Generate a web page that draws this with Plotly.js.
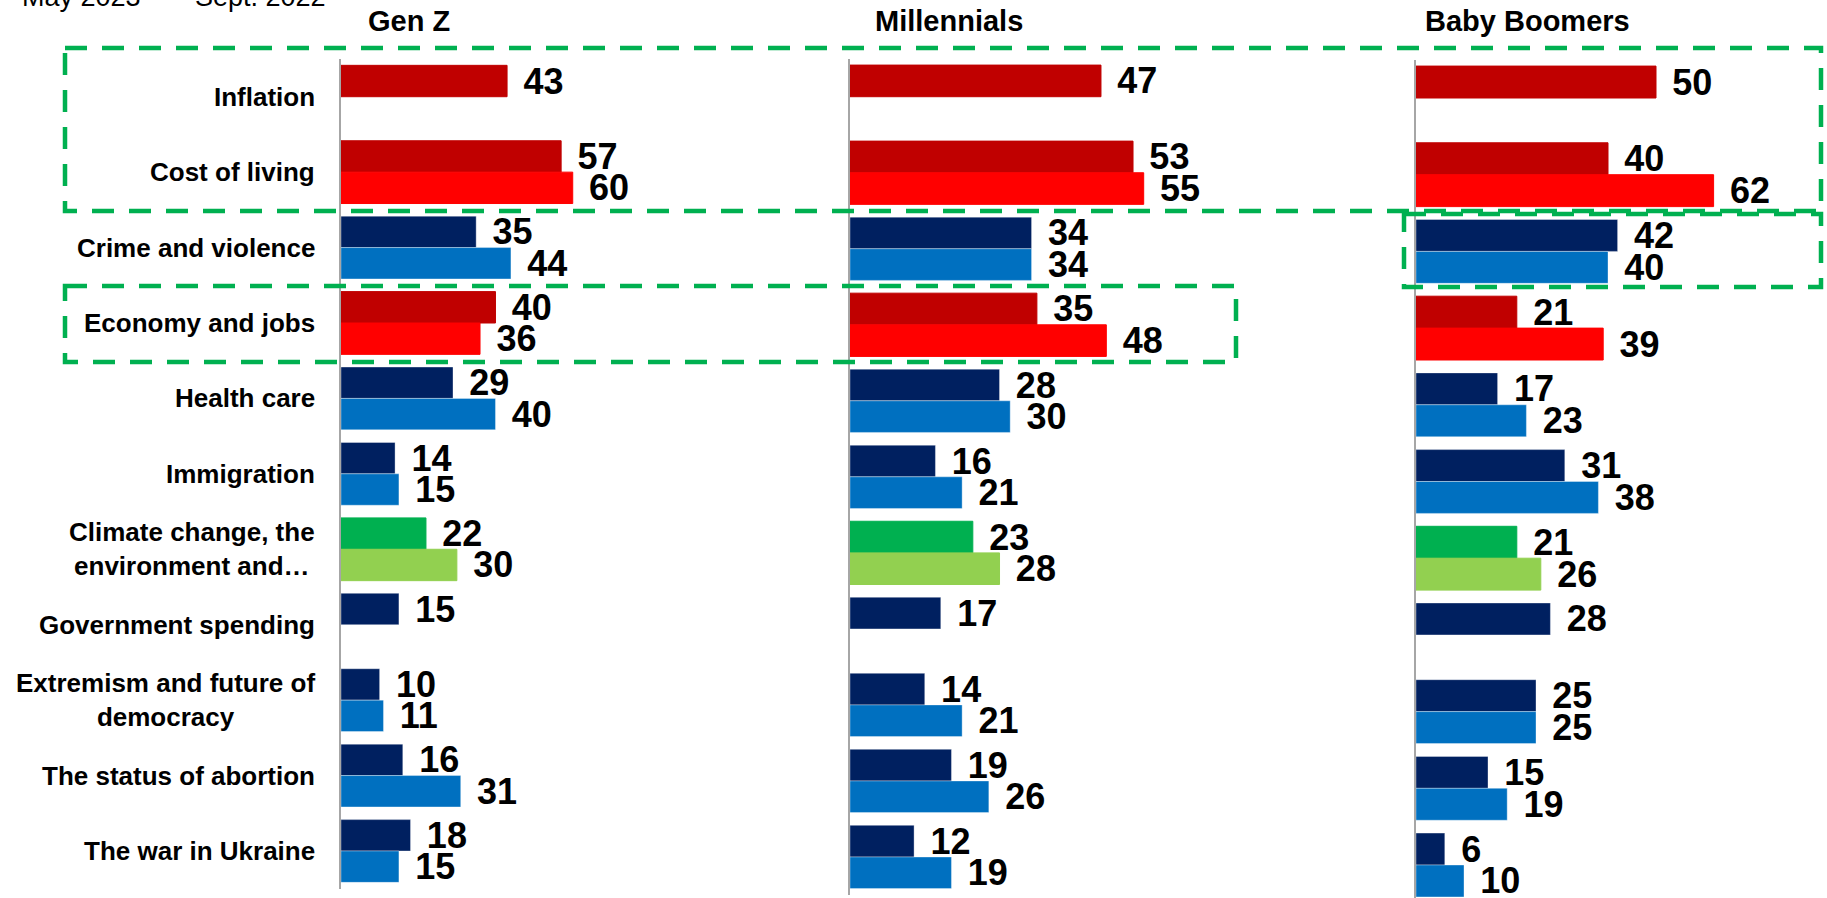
<!DOCTYPE html>
<html>
<head>
<meta charset="utf-8">
<script src="https://cdn.plot.ly/plotly-3.0.1.min.js"></script>
<style>
html,body{margin:0;padding:0;overflow:hidden;background:#ffffff;}
#chart{width:1827px;height:898px;}
</style>
</head>
<body>
<div id="chart"></div>
<script>
// ---------------- DATA ----------------
const categories = [
  'Inflation',
  'Cost of living',
  'Crime and violence',
  'Economy and jobs',
  'Health care',
  'Immigration',
  'Climate change, the<br>environment and…',
  'Government spending',
  'Extremism and future of<br>democracy',
  'The status of abortion',
  'The war in Ukraine'
];
const seriesNames = ['May 2023', 'Sept. 2022'];
const panelNames = ['Gen Z', 'Millennials', 'Baby Boomers'];

const genZMay2023        = [43, 57, 35, 40, 29, 14, 22, 15, 10, 16, 18];
const genZSept2022       = [null, 60, 44, 36, 40, 15, 30, null, 11, 31, 15];
const millennialsMay2023 = [47, 53, 34, 35, 28, 16, 23, 17, 14, 19, 12];
const millennialsSept2022= [null, 55, 34, 48, 30, 21, 28, null, 21, 26, 19];
const boomersMay2023     = [50, 40, 42, 21, 17, 31, 21, 28, 25, 15, 6];
const boomersSept2022    = [null, 62, 40, 39, 23, 38, 26, null, 25, 19, 10];

// ---------------- STYLE ----------------
const W = 1827, H = 898;
const FONT = '"Liberation Sans", Arial, sans-serif';
const DARK_RED = '#C00000', RED = '#FF0000';
const NAVY = '#002060', BLUE = '#0070C0';
const GREEN = '#00B050', LIGHT_GREEN = '#92D050';
const colorMay  = [DARK_RED, DARK_RED, NAVY, DARK_RED, NAVY, NAVY, GREEN, NAVY, NAVY, NAVY, NAVY];
const colorSept = [RED, RED, BLUE, RED, BLUE, BLUE, LIGHT_GREEN, BLUE, BLUE, BLUE, BLUE];
const edgeColor = c => (c === NAVY || c === BLUE) ? 'rgba(255,255,255,0.35)' : c;

const panelValues = [
  [genZMay2023, genZSept2022],
  [millennialsMay2023, millennialsSept2022],
  [boomersMay2023, boomersSept2022]
];
// pixel geometry of each panel (axis start, axis end, px per unit, plot top, plot bottom)
const panelGeom = [
  {x0: 341,  x1: 800,  ppu: 3.862, top: 59.0, bot: 888.7, rb: 10.5,  titleX: 366},
  {x0: 850,  x1: 1380, ppu: 5.34,  top: 58.7, bot: 895.0, rb: 10.5,  titleX: 873},
  {x0: 1416, x1: 1827, ppu: 4.80,  top: 59.65, bot: 898,  rb: 10.43, titleX: 1423}
];

const traces = [];
const layout = {
  width: W, height: H,
  margin: {l: 0, r: 0, t: 0, b: 0},
  paper_bgcolor: '#ffffff',
  plot_bgcolor: 'rgba(0,0,0,0)',
  barmode: 'group',
  bargap: 0.168,
  bargroupgap: 0,
  showlegend: false,
  font: {family: FONT, color: '#000000'},
  annotations: [],
  shapes: []
};

panelGeom.forEach((g, p) => {
  const sfx = p === 0 ? '' : String(p + 1);
  const xa = 'x' + sfx, ya = 'y' + sfx;
  [0, 1].forEach(s => {
    const cols = s === 0 ? colorMay : colorSept;
    traces.push({
      type: 'bar',
      orientation: 'h',
      name: seriesNames[s],
      x: panelValues[p][s],
      y: categories,
      xaxis: xa, yaxis: ya,
      marker: {color: cols, line: {color: cols.map(edgeColor), width: 1}},
      texttemplate: '<span style="font-size:24px">\u00A0\u00A0</span>%{x}',
      textposition: 'outside',
      constraintext: 'none',
      cliponaxis: false,
      textfont: {family: FONT, size: 36, color: '#000000', weight: 'bold'},
      hoverinfo: 'skip'
    });
  });
  layout['xaxis' + sfx] = {
    domain: [g.x0 / W, g.x1 / W],
    range: [0, (g.x1 - g.x0) / g.ppu],
    anchor: ya,
    showgrid: false, zeroline: false, showline: false,
    showticklabels: false, ticks: '', fixedrange: true
  };
  layout['yaxis' + sfx] = {
    domain: [Math.max(0, 1 - g.bot / H), 1 - g.top / H],
    type: 'category',
    categoryorder: 'array', categoryarray: categories,
    range: [g.rb, -0.5],
    anchor: xa,
    showline: true, linecolor: '#a6a6a6', linewidth: 2,
    showgrid: false, zeroline: false,
    showticklabels: false, ticks: '', fixedrange: true
  };
  // panel title
  layout.annotations.push({
    text: panelNames[p], xref: 'paper', yref: 'paper',
    x: g.titleX / W, y: 1 - 21 / H, xanchor: 'left', yanchor: 'middle',
    showarrow: false,
    font: {family: FONT, size: 29, color: '#000000', weight: 'bold'}
  });
});

// category labels (left of Gen Z axis)
categories.forEach(c => {
  layout.annotations.push({
    text: c, xref: 'x', yref: 'y', x: 0, y: c,
    xanchor: 'right', yanchor: 'middle', xshift: -24, align: 'center',
    showarrow: false,
    font: {family: FONT, size: 26, color: '#000000', weight: 'bold'}
  });
});

// legend text (cut off at the top edge)
const legendX = [20, 193];
seriesNames.forEach((n, i) => {
  layout.annotations.push({
    text: n, xref: 'paper', yref: 'paper',
    x: legendX[i] / W, y: 1 + 3 / H, xanchor: 'left', yanchor: 'middle',
    showarrow: false,
    font: {family: FONT, size: 27, color: '#000000'}
  });
});

// green dashed highlight boxes (pixel rectangles)
const boxes = [
  [65, 48, 1821, 211],
  [1404, 214, 1821, 287],
  [65, 286, 1236, 362]
];
boxes.forEach(b => {
  layout.shapes.push({
    type: 'rect', xref: 'paper', yref: 'paper',
    x0: b[0] / W, x1: b[2] / W, y0: 1 - b[1] / H, y1: 1 - b[3] / H,
    line: {color: '#00B050', width: 4.5, dash: '22px,15px'},
    fillcolor: 'rgba(0,0,0,0)', layer: 'above'
  });
});

Plotly.newPlot('chart', traces, layout, {displayModeBar: false, staticPlot: true});
</script>
</body>
</html>
